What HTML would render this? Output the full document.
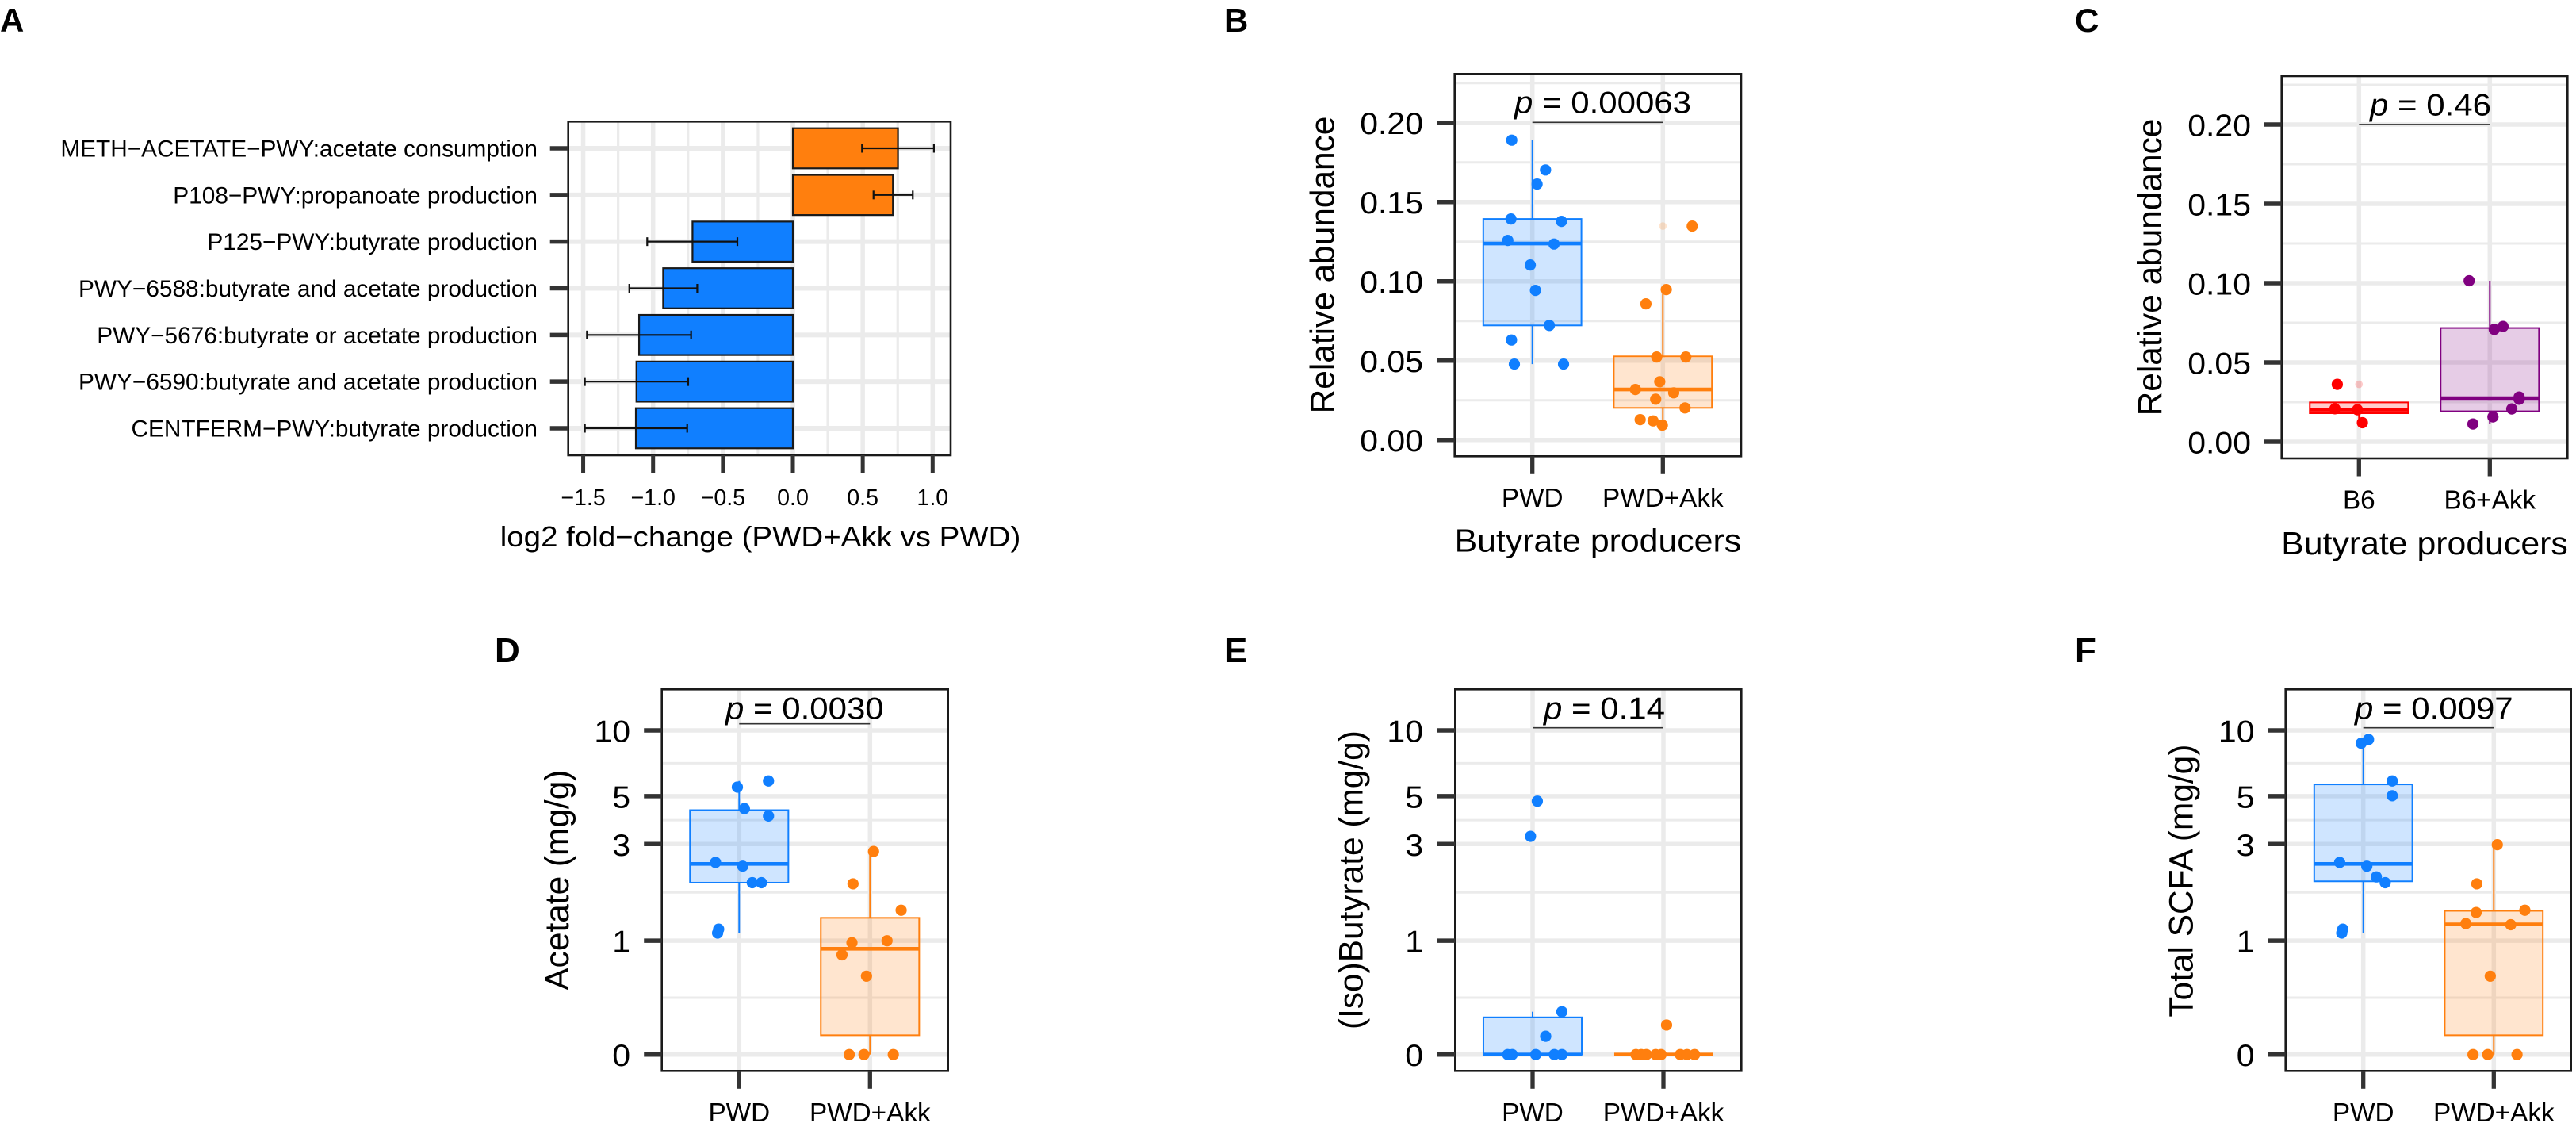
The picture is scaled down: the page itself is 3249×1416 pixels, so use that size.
<!DOCTYPE html>
<html lang="en">
<head>
<meta charset="utf-8">
<title>Butyrate pathways and SCFA panels</title>
<style>
html,body{margin:0;padding:0;background:#fff;width:3249px;height:1416px;overflow:hidden}
svg{display:block;font-family:"Liberation Sans",Arial,sans-serif}
</style>
</head>
<body>
<svg id="figure" xmlns="http://www.w3.org/2000/svg" width="3249" height="1416" viewBox="0 0 3249 1416">
<rect x="0" y="0" width="3249" height="1416" fill="#ffffff"/>
</svg>
<script>
/* ---------- Panel A data ---------- */
const pathwayLabels = [
  "METH\u2212ACETATE\u2212PWY:acetate consumption",
  "P108\u2212PWY:propanoate production",
  "P125\u2212PWY:butyrate production",
  "PWY\u22126588:butyrate and acetate production",
  "PWY\u22125676:butyrate or acetate production",
  "PWY\u22126590:butyrate and acetate production",
  "CENTFERM\u2212PWY:butyrate production"
];
const pathwayLog2FC = [0.752, 0.716, -0.718, -0.928, -1.10, -1.119, -1.123];
const pathwayErrLow = [0.495, 0.577, -1.042, -1.17, -1.473, -1.488, -1.488];
const pathwayErrHigh = [1.009, 0.858, -0.397, -0.684, -0.728, -0.749, -0.756];
const foldTicks = [-1.5, -1.0, -0.5, 0.0, 0.5, 1.0];
const foldTickLabels = ["\u22121.5", "\u22121.0", "\u22120.5", "0.0", "0.5", "1.0"];

/* ---------- Shared tick data ---------- */
const abundanceTicks = [0, 0.05, 0.10, 0.15, 0.20];
const abundanceTickLabels = ["0.00", "0.05", "0.10", "0.15", "0.20"];
const abundanceExtraMinor = [0.225];
const scfaTicks = [0, 1, 3, 5, 10];
const scfaTickLabels = ["0", "1", "3", "5", "10"];
const pwdCategories = ["PWD", "PWD+Akk"];
const b6Categories = ["B6", "B6+Akk"];

/* ---------- Panel B data: box = [low whisker, q1, median, q3, high whisker] ---------- */
const bPwdBox = [0.0478, 0.0722, 0.1238, 0.1393, 0.189];
const bPwdValues = [0.189, 0.1702, 0.1613, 0.1393, 0.1378, 0.1258, 0.1235, 0.1103, 0.0943, 0.0722, 0.063, 0.0478, 0.0478];
const bPwdJitter = [-0.158, 0.101, 0.036, -0.164, 0.223, -0.188, 0.166, -0.016, 0.024, 0.13, -0.16, -0.138, 0.239];
const bAkkBox = [0.0093, 0.0202, 0.0318, 0.0527, 0.0948];
const bAkkValues = [0.1348, 0.0948, 0.0858, 0.0523, 0.0523, 0.0367, 0.0318, 0.0297, 0.0257, 0.0202, 0.0128, 0.012, 0.0093];
const bAkkJitter = [0.225, 0.026, -0.13, -0.047, 0.176, -0.024, -0.21, 0.083, -0.055, 0.17, -0.174, -0.075, -0.004];
const bAkkOutliers = [0.1348];

/* ---------- Panel C data ---------- */
const cB6Box = [0.012, 0.018, 0.0202, 0.0248, 0.0248];
const cB6Values = [0.0362, 0.0208, 0.0202, 0.012];
const cB6Jitter = [-0.166, -0.184, -0.012, 0.026];
const cB6Outliers = [0.0362];
const cAkkBox = [0.0112, 0.0192, 0.0275, 0.0717, 0.1015];
const cAkkValues = [0.1015, 0.0727, 0.0708, 0.0282, 0.0268, 0.0207, 0.0157, 0.0112];
const cAkkJitter = [-0.158, 0.101, 0.034, 0.224, 0.224, 0.168, 0.024, -0.129];

/* ---------- Panel D data ---------- */
const dPwdBox = [1.10, 1.97, 2.42, 4.31, 5.87];
const dPwdValues = [5.87, 5.50, 4.38, 4.05, 2.46, 2.36, 1.97, 1.97, 1.153, 1.10];
const dPwdJitter = [0.224, -0.014, 0.04, 0.224, -0.181, 0.027, 0.1, 0.17, -0.157, -0.165];
const dAkkBox = [0, 0.136, 0.902, 1.32, 2.77];
const dAkkValues = [2.77, 1.945, 1.443, 0.975, 1.0, 0.832, 0.613, 0, 0, 0];
const dAkkJitter = [0.027, -0.13, 0.238, -0.138, 0.13, -0.214, -0.027, -0.159, -0.046, 0.178];

/* ---------- Panel E data ---------- */
const ePwdBox = [0, 0, 0, 0.267, 0.31];
const ePwdValues = [4.74, 3.26, 0.31, 0.129, 0, 0, 0, 0, 0];
const ePwdJitter = [0.036, -0.016, 0.224, 0.1, -0.19, -0.156, 0.024, 0.166, 0.224];
const eAkkBox = [0, 0, 0, 0, 0];
const eAkkValues = [0.21, 0, 0, 0, 0, 0, 0, 0, 0];
const eAkkJitter = [0.024, -0.21, -0.17, -0.13, -0.059, -0.018, 0.129, 0.18, 0.238];

/* ---------- Panel F data ---------- */
const fPwdBox = [1.10, 2.0, 2.42, 5.66, 9.09];
const fPwdValues = [9.09, 8.73, 5.87, 5.02, 2.46, 2.36, 2.10, 1.97, 1.153, 1.10];
const fPwdJitter = [0.04, -0.016, 0.222, 0.222, -0.181, 0.027, 0.1, 0.168, -0.157, -0.165];
const fAkkBox = [0, 0.136, 1.222, 1.433, 2.98];
const fAkkValues = [2.98, 1.945, 1.443, 1.406, 1.233, 1.217, 0.613, 0, 0, 0];
const fAkkJitter = [0.027, -0.13, 0.238, -0.135, -0.214, 0.13, -0.027, -0.159, -0.046, 0.178];

/* ---------- Helpers ---------- */
const NS = "http://www.w3.org/2000/svg";
const root = document.getElementById("figure");
const GRID = "#ebebeb", TICK = "#333333";

function add(parent, tag, attrs, name) {
  const el = document.createElementNS(NS, tag);
  for (const k in attrs) el.setAttribute(k, attrs[k]);
  
  
  parent.appendChild(el);
  return el;
}
function line(p, x1, y1, x2, y2, stroke, w, name) {
  return add(p, "line", {x1: x1, y1: y1, x2: x2, y2: y2, stroke: stroke, "stroke-width": w}, name);
}
function label(p, str, x, y, size, anchor, sy, name) {
  const el = add(p, "text", {
    transform: "translate(" + x + "," + y + ") scale(1," + sy + ")",
    "font-size": size, "text-anchor": anchor, fill: "#000000"
  }, name);
  el.textContent = str;
  return el;
}
function vlabel(p, str, x, y, size, name) {
  const el = add(p, "text", {
    transform: "translate(" + x + "," + y + ") rotate(-90)",
    "font-size": size, "text-anchor": "middle", fill: "#000000"
  }, name);
  el.textContent = str;
  return el;
}
function panelLetter(str, x, y, size) {
  const el = add(root, "text", {x: x, y: y, "font-size": size, "font-weight": "bold", fill: "#000000"}, "panel-letter-" + str.toLowerCase());
  el.textContent = str;
}
function linearAxis(v0, px0, v1, px1) {
  return function (v) { return px0 + (v - v0) * (px1 - px0) / (v1 - v0); };
}
function pseudoLogAxis(px0, px10) {
  const t = function (v) { return Math.asinh(v * 1.5); };
  return function (v) { return px0 + t(v) * (px10 - px0) / t(10); };
}

/* ---------- Panel A ---------- */
function drawPanelA() {
  const g = add(root, "g", {}, "panel-a");
  const L = 716.7, R = 1199, T = 153.3, B = 574;
  const x = linearAxis(0, 1000, 1, 1176.3);
  const y = function (i) { return 187 + i * 58.83; };
  foldTicks.forEach(function (t, i) {
    if (i < foldTicks.length - 1) line(g, x((t + foldTicks[i + 1]) / 2), T, x((t + foldTicks[i + 1]) / 2), B, GRID, 3.2, "minor-gridline-x");
    line(g, x(t), T, x(t), B, GRID, 5.5, "major-gridline-x");
  });
  pathwayLabels.forEach(function (s, i) {
    line(g, L, y(i), R, y(i), GRID, 6, "major-gridline-y");
  });
  pathwayLog2FC.forEach(function (v, i) {
    const x0 = Math.min(x(0), x(v));
    add(g, "rect", {x: x0, y: y(i) - 25.3, width: Math.abs(x(v) - x(0)), height: 50.6,
      fill: v > 0 ? "#FF7F0E" : "#107FFF", stroke: "#1a1a1a", "stroke-width": 2.2}, "bar-" + i);
  });
  pathwayLog2FC.forEach(function (v, i) {
    line(g, x(pathwayErrLow[i]), y(i), x(pathwayErrHigh[i]), y(i), "#111111", 2.2, "error-bar-" + i);
    line(g, x(pathwayErrLow[i]), y(i) - 5.5, x(pathwayErrLow[i]), y(i) + 5.5, "#111111", 2.2, "error-cap-low-" + i);
    line(g, x(pathwayErrHigh[i]), y(i) - 5.5, x(pathwayErrHigh[i]), y(i) + 5.5, "#111111", 2.2, "error-cap-high-" + i);
  });
  add(g, "rect", {x: L, y: T, width: R - L, height: B - T, fill: "none", stroke: "#1a1a1a", "stroke-width": 2.6}, "panel-border");
  pathwayLabels.forEach(function (s, i) {
    line(g, L - 23, y(i), L, y(i), TICK, 5.5, "y-tick");
    label(g, s, 678, y(i) + 10.5, 29.8, "end", 1, "y-tick-label");
  });
  foldTicks.forEach(function (t, i) {
    line(g, x(t), B, x(t), B + 22.5, TICK, 5, "x-tick");
    label(g, foldTickLabels[i], x(t), 637, 28.6, "middle", 1, "x-tick-label");
  });
  label(g, "log2 fold\u2212change (PWD+Akk vs PWD)", 959, 689, 38.5, "middle", 0.93, "x-axis-title");
}

/* ---------- Box panels ---------- */
function drawBoxPanel(c) {
  const g = add(root, "g", {}, c.name);
  const y = c.y;
  const L = c.left, R = c.right, T = c.top, B = c.bottom;
  const spacing = c.centers[1] - c.centers[0];
  /* grid */
  c.ticks.forEach(function (t, i) {
    if (i < c.ticks.length - 1) {
      const m = (y(t) + y(c.ticks[i + 1])) / 2;
      line(g, L, m, R, m, GRID, 3, "minor-gridline-y");
    }
    line(g, L, y(t), R, y(t), GRID, 5.5, "major-gridline-y");
  });
  c.extraMinor.forEach(function (t) {
    line(g, L, y(t), R, y(t), GRID, 3, "minor-gridline-y");
  });
  c.centers.forEach(function (cx) {
    line(g, cx, T, cx, B, GRID, 5.5, "major-gridline-x");
  });
  /* boxes */
  c.groups.forEach(function (s, i) {
    const cx = c.centers[i], hw = spacing * 0.376;
    const box = s.box;
    if (box[4] > box[3]) line(g, cx, y(box[3]), cx, y(box[4]), s.color, 2, "upper-whisker");
    if (box[0] < box[1]) line(g, cx, y(box[1]), cx, y(box[0]), s.color, 2, "lower-whisker");
    add(g, "rect", {x: cx - hw, y: y(box[3]), width: 2 * hw, height: Math.max(0, y(box[1]) - y(box[3])),
      fill: s.color, "fill-opacity": 0.2, stroke: s.color, "stroke-width": 2}, "box");
    line(g, cx - hw, y(box[2]), cx + hw, y(box[2]), s.color, 4.6, "median-line");
    (s.outliers || []).forEach(function (v) {
      add(g, "circle", {cx: cx, cy: y(v), r: 4.8, fill: s.color, "fill-opacity": 0.2}, "outlier-point");
    });
    s.values.forEach(function (v, k) {
      add(g, "circle", {cx: cx + s.jitter[k] * spacing, cy: y(v), r: 7.1, fill: s.color}, "data-point");
    });
  });
  /* bracket and p value */
  line(g, c.centers[0], c.bracketY, c.centers[1], c.bracketY, "#333333", 1.7, "significance-bracket");
  const p = add(g, "text", {
    transform: "translate(" + c.pX + "," + c.pY + ") scale(1,0.93)",
    "font-size": 42, fill: "#000000"
  }, "p-value-label");
  const pi = document.createElementNS(NS, "tspan");
  
  
  pi.setAttribute("font-style", "italic");
  pi.textContent = "p";
  p.appendChild(pi);
  p.appendChild(document.createTextNode(" = " + c.pText));
  /* frame and ticks */
  add(g, "rect", {x: L, y: T, width: R - L, height: B - T, fill: "none", stroke: "#1a1a1a", "stroke-width": 2.6}, "panel-border");
  c.ticks.forEach(function (t, i) {
    line(g, L - 22.5, y(t), L, y(t), TICK, 5.5, "y-tick");
    label(g, c.tickLabels[i], c.tickLabelX, y(t) + 14.5, 41, "end", 0.94, "y-tick-label");
  });
  c.centers.forEach(function (cx, i) {
    line(g, cx, B, cx, B + 22.5, TICK, 5.3, "x-tick");
    label(g, c.categories[i], cx, c.catY, 33.3, "middle", 1, "x-tick-label");
  });
  vlabel(g, c.yTitle, c.yTitleX, c.yTitleY, 42.4, "y-axis-title");
  if (c.xTitle) label(g, c.xTitle, (L + R) / 2, c.xTitleY, 42.8, "middle", 0.95, "x-axis-title");
}

drawPanelA();

drawBoxPanel({
  name: "panel-b", left: 1834.7, right: 2196, top: 93.3, bottom: 575.3,
  y: linearAxis(0, 554.7, 0.2, 154.7), ticks: abundanceTicks, tickLabels: abundanceTickLabels, extraMinor: abundanceExtraMinor,
  centers: [1932.7, 2097.3], categories: pwdCategories,
  groups: [
    {color: "#107FFF", box: bPwdBox, values: bPwdValues, jitter: bPwdJitter},
    {color: "#FF7F0E", box: bAkkBox, values: bAkkValues, jitter: bAkkJitter, outliers: bAkkOutliers}
  ],
  bracketY: 154.3, pX: 1910, pY: 142.7, pText: "0.00063",
  tickLabelX: 1795, catY: 639, yTitle: "Relative abundance", yTitleX: 1682.6, yTitleY: 334,
  xTitle: "Butyrate producers", xTitleY: 695.6
});

drawBoxPanel({
  name: "panel-c", left: 2877.7, right: 3238.3, top: 96, bottom: 578,
  y: linearAxis(0, 557, 0.2, 157), ticks: abundanceTicks, tickLabels: abundanceTickLabels, extraMinor: abundanceExtraMinor,
  centers: [2975.3, 3140.3], categories: b6Categories,
  groups: [
    {color: "#FF0000", box: cB6Box, values: cB6Values, jitter: cB6Jitter, outliers: cB6Outliers},
    {color: "#800080", box: cAkkBox, values: cAkkValues, jitter: cAkkJitter}
  ],
  bracketY: 157, pX: 2989, pY: 145.3, pText: "0.46",
  tickLabelX: 2839, catY: 641.4, yTitle: "Relative abundance", yTitleX: 2726, yTitleY: 337,
  xTitle: "Butyrate producers", xTitleY: 699
});

const scfaY = pseudoLogAxis(1329.7, 921);

drawBoxPanel({
  name: "panel-d", left: 834.7, right: 1195.7, top: 869.3, bottom: 1350.3,
  y: scfaY, ticks: scfaTicks, tickLabels: scfaTickLabels, extraMinor: [],
  centers: [932.3, 1097.3], categories: pwdCategories,
  groups: [
    {color: "#107FFF", box: dPwdBox, values: dPwdValues, jitter: dPwdJitter},
    {color: "#FF7F0E", box: dAkkBox, values: dAkkValues, jitter: dAkkJitter}
  ],
  bracketY: 912.7, pX: 915, pY: 906.7, pText: "0.0030",
  tickLabelX: 795, catY: 1414, yTitle: "Acetate (mg/g)", yTitleX: 717, yTitleY: 1109.6
});

drawBoxPanel({
  name: "panel-e", left: 1835.3, right: 2196.3, top: 869.3, bottom: 1350.3,
  y: scfaY, ticks: scfaTicks, tickLabels: scfaTickLabels, extraMinor: [],
  centers: [1933, 2098], categories: pwdCategories,
  groups: [
    {color: "#107FFF", box: ePwdBox, values: ePwdValues, jitter: ePwdJitter},
    {color: "#FF7F0E", box: eAkkBox, values: eAkkValues, jitter: eAkkJitter}
  ],
  bracketY: 917.7, pX: 1947, pY: 906.7, pText: "0.14",
  tickLabelX: 1795, catY: 1414, yTitle: "(Iso)Butyrate (mg/g)", yTitleX: 1718.3, yTitleY: 1109.6
});

drawBoxPanel({
  name: "panel-f", left: 2882.7, right: 3242.7, top: 869.3, bottom: 1350.3,
  y: scfaY, ticks: scfaTicks, tickLabels: scfaTickLabels, extraMinor: [],
  centers: [2980.7, 3145.3], categories: pwdCategories,
  groups: [
    {color: "#107FFF", box: fPwdBox, values: fPwdValues, jitter: fPwdJitter},
    {color: "#FF7F0E", box: fAkkBox, values: fAkkValues, jitter: fAkkJitter}
  ],
  bracketY: 917.7, pX: 2970, pY: 906.7, pText: "0.0097",
  tickLabelX: 2843.5, catY: 1414, yTitle: "Total SCFA (mg/g)", yTitleX: 2765.7, yTitleY: 1110.6
});

panelLetter("A", 0, 40, 42);
panelLetter("B", 1544, 40, 42);
panelLetter("C", 2617, 40, 42);
panelLetter("D", 624, 835, 44);
panelLetter("E", 1544, 835, 44);
panelLetter("F", 2617, 835, 44);
</script>
</body>
</html>
